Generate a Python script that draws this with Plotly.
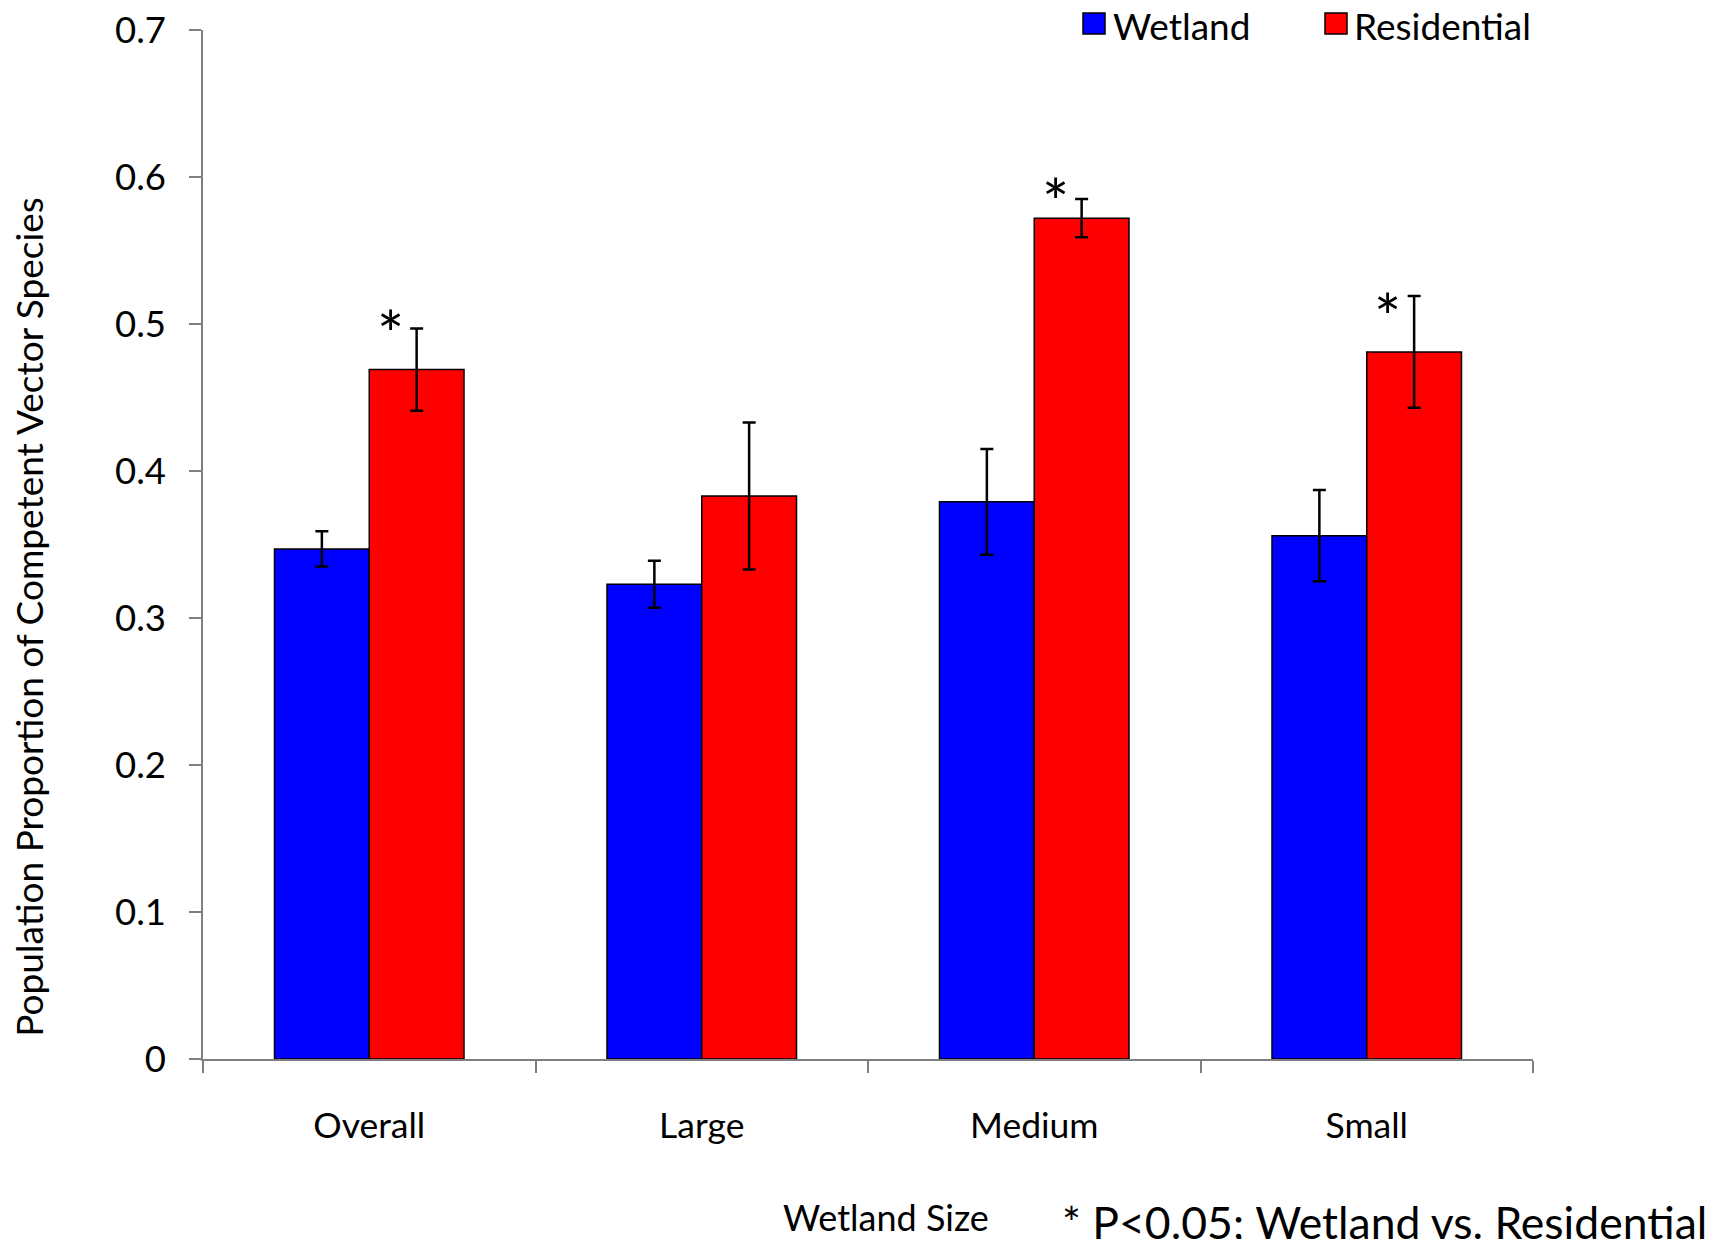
import plotly.graph_objects as go

categories = ["Overall", "Large", "Medium", "Small"]
wetland = [0.347, 0.323, 0.379, 0.356]
wetland_err = [0.012, 0.016, 0.036, 0.031]
residential = [0.469, 0.383, 0.572, 0.481]
residential_err = [0.028, 0.050, 0.013, 0.038]
star_cats = ["Overall", "Medium", "Small"]
star_y = [0.502, 0.5915, 0.5136]
y_ticks = [0, 0.1, 0.2, 0.3, 0.4, 0.5, 0.6, 0.7]
y_ticktext = ["0", "0.1", "0.2", "0.3", "0.4", "0.5", "0.6", "0.7"]

OFF = 8  # default page body margin
W, H = 1727 - 2 * OFF, 1247 - 2 * OFF
# target plot area in page pixels: x 203..1533, y 30..1059.5
L = 203 - OFF
T = 30 - OFF
R = W - (1533 - OFF)
B = H - (1059.5 - OFF)
FONT = "Lato, 'Open Sans', sans-serif"

def px(x):
    return (x - OFF - L) / (W - L - R)

def py(y):
    return (H - B - (y - OFF)) / (H - T - B)

fig = go.Figure()
fig.add_trace(go.Bar(
    x=categories, y=wetland, name="Wetland",
    marker=dict(color="#0000ff", line=dict(color="black", width=1.5)),
    error_y=dict(type="data", array=wetland_err, visible=True,
                 color="black", thickness=2.5, width=6.5),
    showlegend=False,
))
fig.add_trace(go.Bar(
    x=categories, y=residential, name="Residential",
    marker=dict(color="#ff0000", line=dict(color="black", width=1.5)),
    error_y=dict(type="data", array=residential_err, visible=True,
                 color="black", thickness=2.5, width=6.5),
    showlegend=False,
))

annotations = []
for c, yv in zip(star_cats, star_y):
    annotations.append(dict(x=c, y=yv, xref="x", yref="y", text="*",
                            showarrow=False, xshift=21, yshift=-12,
                            xanchor="center", yanchor="middle",
                            font=dict(size=64, color="black", family=FONT)))

# y-axis title
annotations.append(dict(x=px(29), y=py(617), xref="paper", yref="paper",
                        text="Population Proportion of Competent Vector Species",
                        textangle=-90, showarrow=False,
                        xanchor="center", yanchor="middle",
                        font=dict(size=37, color="black", family=FONT)))
# bottom texts
annotations.append(dict(x=px(886), y=py(1218), xref="paper", yref="paper",
                        text="Wetland Size", showarrow=False,
                        xanchor="center", yanchor="middle",
                        font=dict(size=36, color="black", family=FONT)))
annotations.append(dict(x=px(1060), y=py(1222), xref="paper", yref="paper",
                        text="* P<0.05; Wetland vs. Residential", showarrow=False,
                        xanchor="left", yanchor="middle",
                        font=dict(size=44.5, color="black", family=FONT)))
# legend
annotations.append(dict(x=px(1111), y=py(25), xref="paper", yref="paper",
                        text="Wetland", showarrow=False,
                        xanchor="left", yanchor="middle",
                        font=dict(size=37, color="black", family=FONT)))
annotations.append(dict(x=px(1352), y=py(25), xref="paper", yref="paper",
                        text="Residential", showarrow=False,
                        xanchor="left", yanchor="middle",
                        font=dict(size=37, color="black", family=FONT)))

shapes = [
    dict(type="rect", xref="paper", yref="paper",
         x0=px(1083), x1=px(1105), y0=py(13), y1=py(34),
         fillcolor="#0000ff", line=dict(color="black", width=1.5)),
    dict(type="rect", xref="paper", yref="paper",
         x0=px(1325), x1=px(1347), y0=py(13), y1=py(34),
         fillcolor="#ff0000", line=dict(color="black", width=1.5)),
]

fig.update_layout(
    width=W, height=H,
    margin=dict(l=L, r=R, t=T, b=B, autoexpand=False),
    paper_bgcolor="white", plot_bgcolor="white",
    barmode="group", bargap=0.43, bargroupgap=0,
    showlegend=False,
    annotations=annotations, shapes=shapes,
    font=dict(family=FONT, color="black"),
)
fig.update_xaxes(
    type="category", showline=True, linecolor="#7f7f7f", linewidth=1.5,
    ticks="outside", tickson="boundaries", ticklen=12, tickcolor="#7f7f7f",
    tickwidth=1.5, showgrid=False, zeroline=False,
    tickfont=dict(size=35.5, color="black", family=FONT),
    ticklabelstandoff=35,
)
fig.update_yaxes(
    range=[0, 0.7], showline=True, linecolor="#7f7f7f", linewidth=1.5,
    ticks="outside", ticklen=12, tickcolor="#7f7f7f", tickwidth=1.5,
    tickvals=y_ticks, ticktext=y_ticktext, showgrid=False, zeroline=False,
    tickfont=dict(size=36.5, color="black", family=FONT),
    ticklabelstandoff=16, ticklabeloverflow="allow",
)

fig.write_html("out.html")
